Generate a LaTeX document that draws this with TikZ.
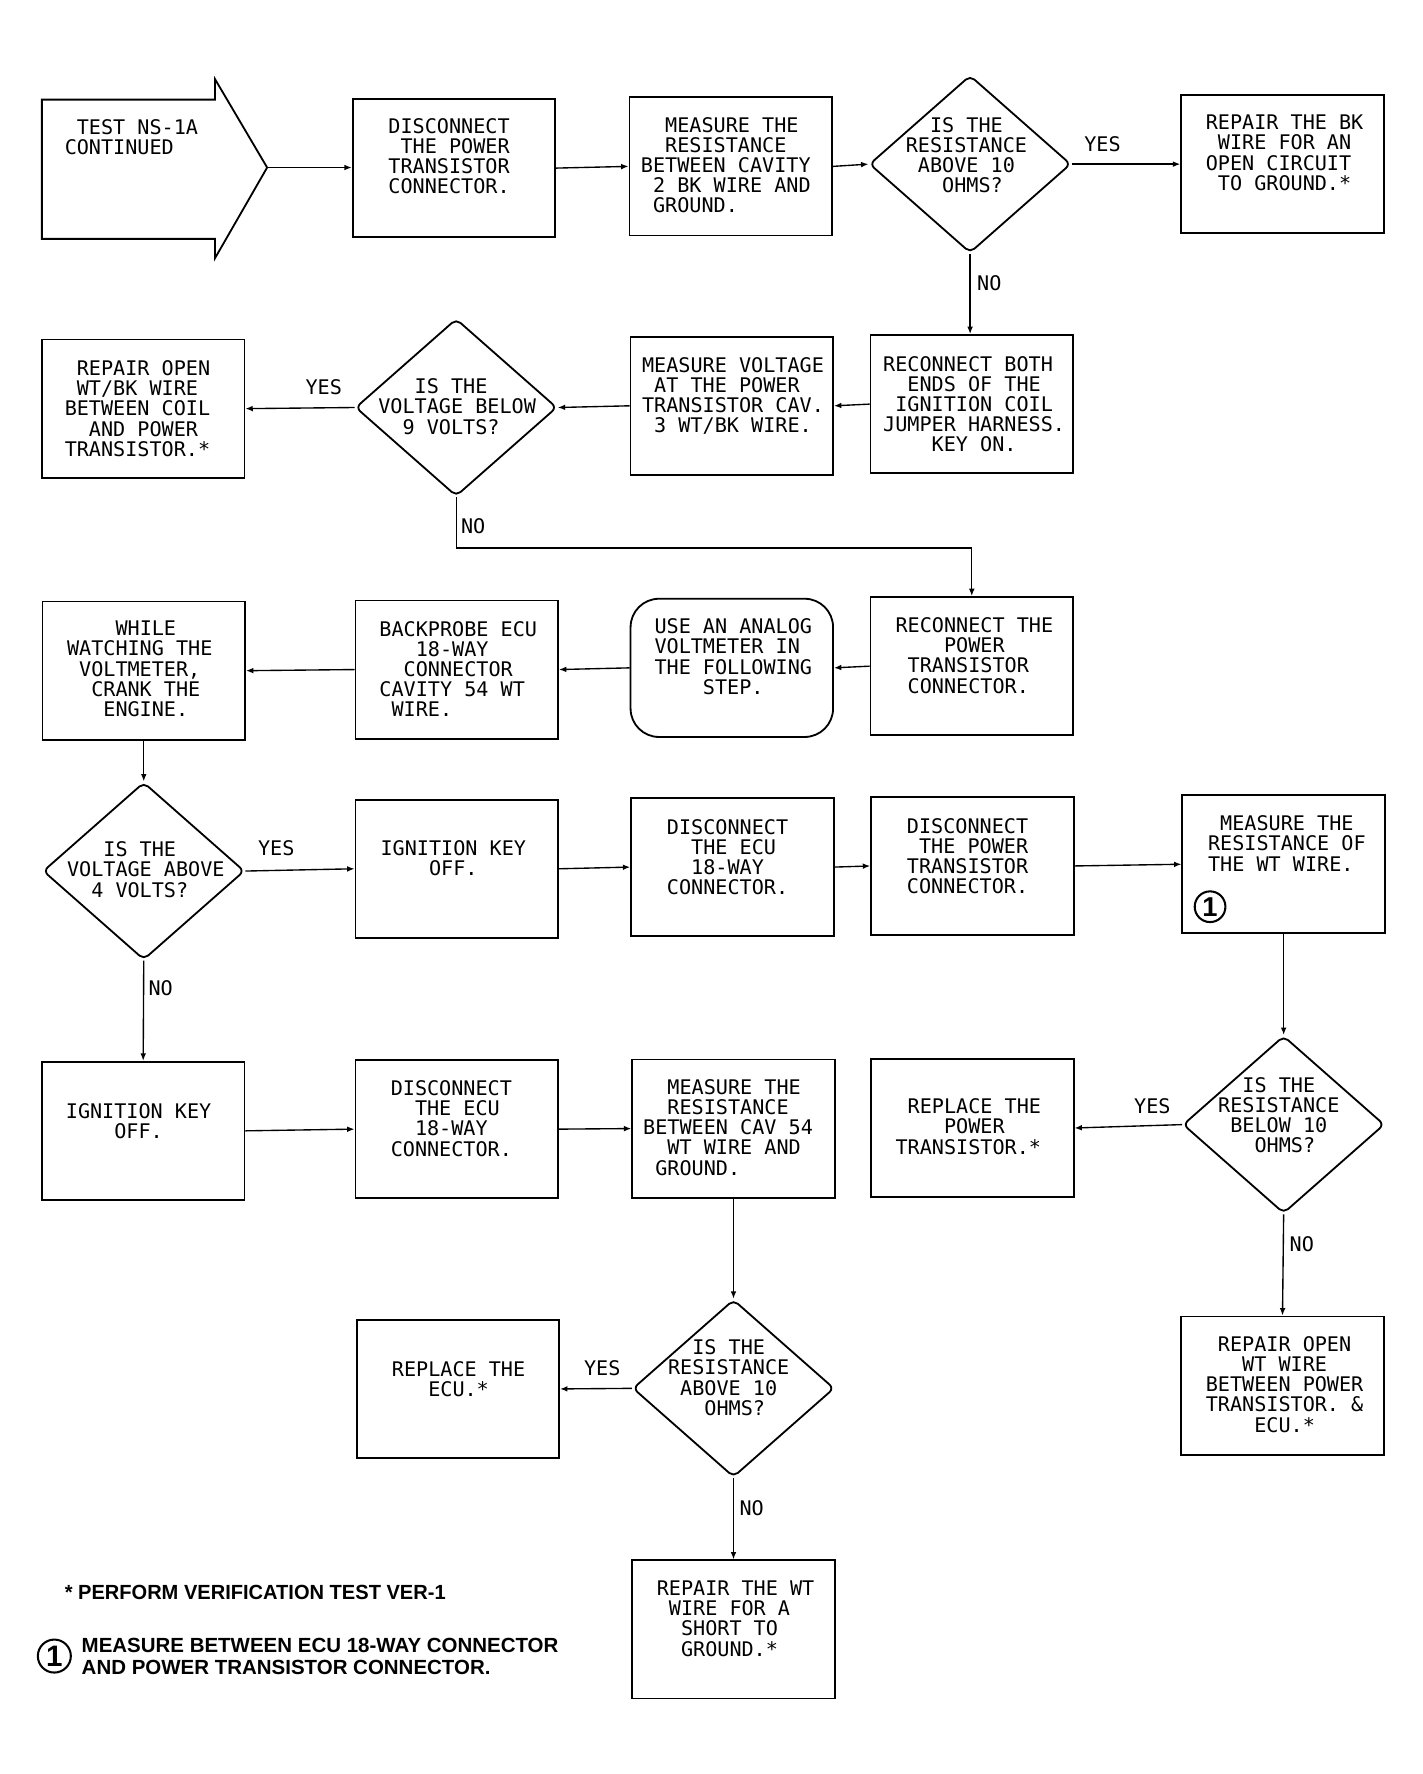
\documentclass[tikz,border=0pt]{standalone}
\usepackage{fontspec}
\newfontfamily\plotfont{DejaVu Sans Mono}
\newfontfamily\notefont{Liberation Sans}
\usetikzlibrary{shapes.geometric,arrows.meta}
\newcommand\ind[1]{\hspace*{#1\fontcharwd\font`\0}}
\begin{document}
\begin{tikzpicture}[x=0.995pt,y=-0.995pt,
  shp/.style={draw, line width=1.6pt},
  box/.style={shp, inner sep=0, minimum width=178pt, minimum height=121.5pt},
  rbox/.style={box, rounded corners=25pt},
  dia/.style={shp, diamond, inner sep=0, minimum width=177pt, minimum height=156pt, rounded corners=5pt},
  txt/.style={font=\plotfont\fontsize{17.7}{17.7}\selectfont, align=left, inner sep=0, anchor=north west},
  lbl/.style={font=\plotfont\fontsize{17.7}{17.7}\selectfont, inner sep=0},
  conn/.style={line width=1.2pt, -{Latex[length=6.5pt,width=5pt]}},
  note/.style={font=\notefont\bfseries\fontsize{18}{18}\selectfont, inner sep=0, anchor=west},
  num/.style={circle, draw, line width=1.8pt, inner sep=0, minimum size=29pt, font=\notefont\bfseries\fontsize{26}{26}\selectfont}
]
\useasboundingbox (0,0) rectangle (1256.3,1567.2);

% start arrow
\draw[shp] (37,88) -- (190,88) -- (190,70) -- (236,148) -- (190,228) -- (190,211) -- (37,211) -- cycle;
\coordinate (tip) at (236,148);
\node[txt] (tA) at (57,105) {\ind{1}TEST NS-1A\\CONTINUED};

% shapes
\node[box] (b1) at (401,148.5) {};
\node[box] (b2) at (645.5,147) {};
\node[dia] (d1) at (857,145) {};
\node[box] (b3) at (1133,145) {};
\node[box] (b4) at (858.5,357) {};
\node[box] (b5) at (646.5,358.5) {};
\node[dia] (d2) at (403,360) {};
\node[box] (b6) at (126.5,361) {};
\node[box] (b7) at (858.5,588.5) {};
\node[rbox] (b8) at (646.5,590) {};
\node[box] (b9) at (403.5,591.5) {};
\node[box] (b10) at (127,592.5) {};
\node[dia] (d3) at (127,769.5) {};
\node[box] (b11) at (403.5,767.5) {};
\node[box] (b12) at (647,766) {};
\node[box] (b13) at (859,765) {};
\node[box] (b14) at (1134,763.5) {};
\node[dia] (d4) at (1134,993.5) {};
\node[box] (b15) at (126.5,999) {};
\node[box] (b16) at (403.5,997.5) {};
\node[box] (b17) at (648,997) {};
\node[box] (b18) at (859,996.5) {};
\node[box] (b19) at (1133,1224) {};
\node[dia] (d5) at (648,1226.5) {};
\node[box] (b20) at (404.5,1227) {};
\node[box] (b21) at (648,1439.5) {};

% texts
\node[txt] (t1) at (343,104.5) {DISCONNECT\\\ind{1}THE POWER\\TRANSISTOR\\CONNECTOR.};
\node[txt] (t2) at (566,103.5) {\ind{2}MEASURE THE\\\ind{2}RESISTANCE\\BETWEEN CAVITY\\\ind{1}2 BK WIRE AND\\\ind{1}GROUND.};
\node[txt] (t3) at (800,103.5) {\ind{2}IS THE\\RESISTANCE\\\ind{1}ABOVE 10\\\ind{3}OHMS?};
\node[txt] (t4) at (1065,101.5) {REPAIR THE BK\\\ind{1}WIRE FOR AN\\OPEN CIRCUIT\\\ind{1}TO GROUND.*};
\node[txt] (t5) at (780,314.5) {RECONNECT BOTH\\\ind{2}ENDS OF THE\\\ind{1}IGNITION COIL\\JUMPER HARNESS.\\\ind{4}KEY ON.};
\node[txt] (t6) at (567,315.5) {MEASURE VOLTAGE\\\ind{1}AT THE POWER\\TRANSISTOR CAV.\\\ind{1}3 WT/BK WIRE.};
\node[txt] (t7) at (334,334.5) {\ind{3}IS THE\\VOLTAGE BELOW\\\ind{2}9 VOLTS?};
\node[txt] (t8) at (57,318.5) {\ind{1}REPAIR OPEN\\\ind{1}WT/BK WIRE\\BETWEEN COIL\\\ind{2}AND POWER\\TRANSISTOR.*};
\node[txt] (t9) at (791,545.5) {RECONNECT THE\\\ind{4}POWER\\\ind{1}TRANSISTOR\\\ind{1}CONNECTOR.};
\node[txt] (t10) at (578,546.5) {USE AN ANALOG\\VOLTMETER IN\\THE FOLLOWING\\\ind{4}STEP.};
\node[txt] (t11) at (335,548.5) {BACKPROBE ECU\\\ind{3}18-WAY\\\ind{2}CONNECTOR\\CAVITY 54 WT\\\ind{1}WIRE.};
\node[txt] (t12) at (59,548.5) {\ind{4}WHILE\\WATCHING THE\\\ind{1}VOLTMETER,\\\ind{2}CRANK THE\\\ind{3}ENGINE.};
\node[txt] (t13) at (59,743.5) {\ind{3}IS THE\\VOLTAGE ABOVE\\\ind{2}4 VOLTS?};
\node[txt] (t14) at (336,742.5) {IGNITION KEY\\\ind{4}OFF.};
\node[txt] (t15) at (589,723.5) {DISCONNECT\\\ind{2}THE ECU\\\ind{2}18-WAY\\CONNECTOR.};
\node[txt] (t16) at (801,722.5) {DISCONNECT\\\ind{1}THE POWER\\TRANSISTOR\\CONNECTOR.};
\node[txt] (t17) at (1067,720.5) {\ind{1}MEASURE THE\\RESISTANCE OF\\THE WT WIRE.};
\node[num, minimum size=27pt, font=\notefont\bfseries\fontsize{24}{24}\selectfont] (c1) at (1069,801) {1};
\node[txt] (t18) at (58,974.5) {IGNITION KEY\\\ind{4}OFF.};
\node[txt] (t19) at (345,954.5) {DISCONNECT\\\ind{2}THE ECU\\\ind{2}18-WAY\\CONNECTOR.};
\node[txt] (t20) at (568,953.5) {\ind{2}MEASURE THE\\\ind{2}RESISTANCE\\BETWEEN CAV 54\\\ind{2}WT WIRE AND\\\ind{1}GROUND.};
\node[txt] (t21) at (791,970.5) {\ind{1}REPLACE THE\\\ind{4}POWER\\TRANSISTOR.*};
\node[txt] (t22) at (1076,951.5) {\ind{2}IS THE\\RESISTANCE\\\ind{1}BELOW 10\\\ind{3}OHMS?};
\node[txt] (t23) at (1065,1180.5) {\ind{1}REPAIR OPEN\\\ind{3}WT WIRE\\BETWEEN POWER\\TRANSISTOR. \&\\\ind{4}ECU.*};
\node[txt] (t24) at (590,1183.5) {\ind{2}IS THE\\RESISTANCE\\\ind{1}ABOVE 10\\\ind{3}OHMS?};
\node[txt] (t25) at (346,1202.5) {REPLACE THE\\\ind{3}ECU.*};
\node[txt] (t26) at (580,1396.5) {REPAIR THE WT\\\ind{1}WIRE FOR A\\\ind{2}SHORT TO\\\ind{2}GROUND.*};

% connectors
\draw[conn] (tip) -- (tip -| b1.west);
\draw[conn] (b1.east) -- (b2.west);
\draw[conn] (b2.east) -- (d1.west);
\draw[conn] (d1.east) -- (b3.west);
\draw[conn] (d1.south) -- (d1.south |- b4.north);
\draw[conn] (b4.west) -- (b5.east);
\draw[conn] (b5.west) -- (d2.east);
\draw[conn] (d2.west) -- (b6.east);
\draw[conn] (d2.south) -- ++(0,45) -| (b7.north);
\draw[conn] (b7.west) -- (b8.east);
\draw[conn] (b8.west) -- (b9.east);
\draw[conn] (b9.west) -- (b10.east);
\draw[conn] (b10.south) -- (d3.north);
\draw[conn] (d3.east) -- (b11.west);
\draw[conn] (b11.east) -- (b12.west);
\draw[conn] (b12.east) -- (b13.west);
\draw[conn] (b13.east) -- (b14.west);
\draw[conn] (b14.south) -- (d4.north);
\draw[conn] (d4.west) -- (b18.east);
\draw[conn] (d4.south) -- (b19.north);
\draw[conn] (d3.south) -- (b15.north);
\draw[conn] (b15.east) -- (b16.west);
\draw[conn] (b16.east) -- (b17.west);
\draw[conn] (b17.south) -- (d5.north);
\draw[conn] (d5.west) -- (b20.east);
\draw[conn] (d5.south) -- (b21.north);

% labels
\node[lbl] (y1) at (974,127) {YES};
\node[lbl] (n1) at (874,250) {NO};
\node[lbl] (y2) at (286,342) {YES};
\node[lbl] (n2) at (418,465) {NO};
\node[lbl] (y3) at (244,749) {YES};
\node[lbl] (n3) at (142,873) {NO};
\node[lbl] (y4) at (1018,977) {YES};
\node[lbl] (n4) at (1150,1099) {NO};
\node[lbl] (y5) at (532,1209) {YES};
\node[lbl] (n5) at (664,1332) {NO};

% footnotes
\node[note] (f1) at (57,1407) {\scalebox{0.98}[1]{* PERFORM VERIFICATION TEST VER-1}};
\node[num] (fc) at (48,1463) {1};
\node[note] (f2) at (72,1454) {MEASURE BETWEEN ECU 18-WAY CONNECTOR};
\node[note] (f3) at (72,1473) {AND POWER TRANSISTOR CONNECTOR.};
\end{tikzpicture}
\end{document}
